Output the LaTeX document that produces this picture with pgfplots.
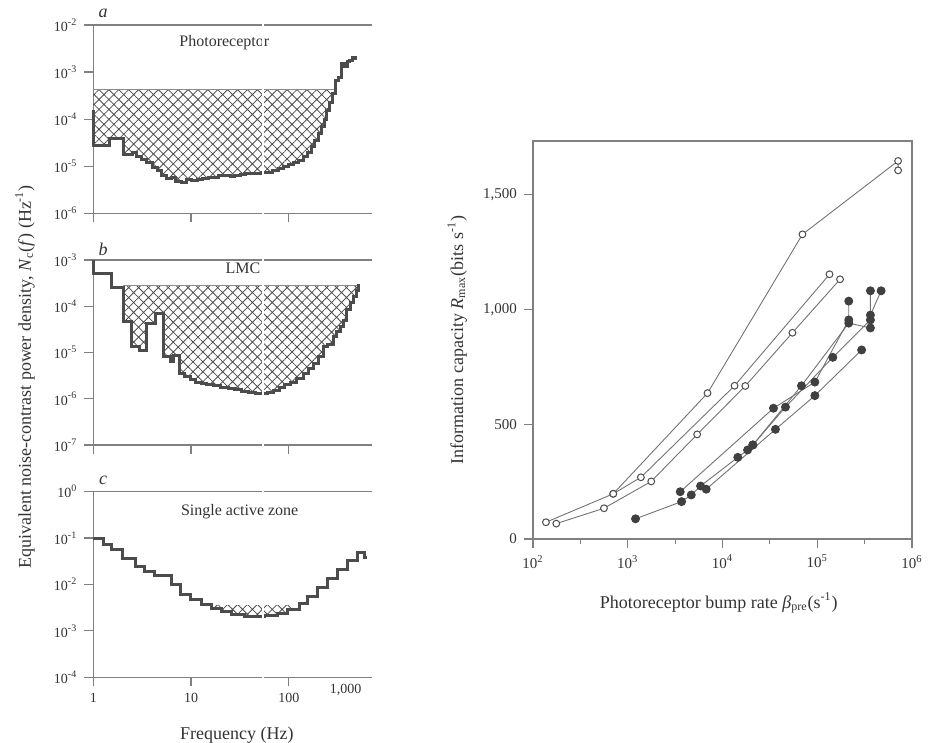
\documentclass[border=0pt]{standalone}
\usepackage{fontspec}
\setmainfont{Liberation Serif}
\usepackage{pgfplots}
\pgfplotsset{compat=1.18}
\usetikzlibrary{patterns.meta}

\definecolor{ink}{gray}{0.2}
\definecolor{axisgray}{gray}{0.5}
\definecolor{stairgray}{gray}{0.3}

\tikzset{
  ptitle/.style={font=\fontsize{8}{9}\selectfont, text=ink},
  pletter/.style={font=\itshape\fontsize{9}{10}\selectfont, text=ink},
  meshfill/.style={pattern={Hatch[angle=45,distance=3.5pt,line width=0.4pt]},
    pattern color=black!70, draw=none},
}

\begin{document}
\begin{tikzpicture}
\useasboundingbox (0,0) rectangle (474pt,371.5pt);

% a: photoreceptor
\begin{axis}[scale only axis, width=139.4pt, anchor=south west,
  xmode=log, ymode=log, xmin=1, xmax=710,
  axis x line=box, axis y line=left,
  x axis line style={-}, y axis line style={-},
  axis line style={draw=axisgray, line width=0.6pt},
  xtick={1,10,100}, xtick pos=left, ytick pos=left,
  tick align=outside, major tick length=4.5pt, minor tick length=0pt,
  tick style={draw=axisgray, line width=0.6pt},
  tick label style={font=\fontsize{7}{8}\selectfont, text=ink},
  clip=false,
  at={(46.65pt,264.85pt)}, height=94.15pt,
  ymin=1e-6, ymax=1e-2, ytick={1e-6,1e-5,1e-4,1e-3,1e-2},
  yticklabels={10\textsuperscript{-6},10\textsuperscript{-5},10\textsuperscript{-4},10\textsuperscript{-3},10\textsuperscript{-2}},
  xticklabels={,,}]
% hatched area under the 4.2e-4 line
\addplot[const plot, no marks, meshfill] coordinates {
  (1,1.57e-4) (1,2.75e-5) (1.48,3.9e-5) (2.03,1.8e-5) (2.5,2.0e-5) (2.75,1.6e-5)
  (3.1,1.4e-5) (3.5,1.2e-5) (4.0,9.5e-6) (4.5,8.0e-6) (5.0,6.5e-6) (5.6,5.5e-6)
  (6.3,5.9e-6) (7.0,4.7e-6) (8.0,4.5e-6) (9.0,5.2e-6) (10,5.0e-6) (11.5,5.1e-6)
  (13,5.4e-6) (15,5.9e-6) (17,5.8e-6) (19,6.2e-6) (22,6.5e-6) (25,6.1e-6)
  (28,6.3e-6) (32,6.6e-6) (36,6.9e-6) (41,7.1e-6) (46,7.0e-6) (52,7.3e-6)
  (60,7.4e-6) (68,8.2e-6) (78,9.0e-6) (88,9.8e-6) (100,1.1e-5) (112,1.2e-5)
  (125,1.35e-5) (140,1.6e-5) (155,2.0e-5) (170,2.6e-5) (185,3.5e-5) (200,5.0e-5)
  (215,7.0e-5) (230,1.0e-4) (245,1.5e-4) (262,2.3e-4) (280,3.5e-4)
  (300,4.2e-4) (1,4.2e-4)
};
\addplot[draw=black!45, line width=0.5pt, no marks] coordinates {(1,4.2e-4) (300,4.2e-4)};
\addplot[const plot, draw=stairgray, line width=1.5pt, no marks] coordinates {
  (1,1.57e-4) (1,2.75e-5) (1.48,3.9e-5) (2.03,1.8e-5) (2.5,2.0e-5) (2.75,1.6e-5)
  (3.1,1.4e-5) (3.5,1.2e-5) (4.0,9.5e-6) (4.5,8.0e-6) (5.0,6.5e-6) (5.6,5.5e-6)
  (6.3,5.9e-6) (7.0,4.7e-6) (8.0,4.5e-6) (9.0,5.2e-6) (10,5.0e-6) (11.5,5.1e-6)
  (13,5.4e-6) (15,5.9e-6) (17,5.8e-6) (19,6.2e-6) (22,6.5e-6) (25,6.1e-6)
  (28,6.3e-6) (32,6.6e-6) (36,6.9e-6) (41,7.1e-6) (46,7.0e-6) (52,7.3e-6)
  (60,7.4e-6) (68,8.2e-6) (78,9.0e-6) (88,9.8e-6) (100,1.1e-5) (112,1.2e-5)
  (125,1.35e-5) (140,1.6e-5) (155,2.0e-5) (170,2.6e-5) (185,3.5e-5) (200,5.0e-5)
  (215,7.0e-5) (230,1.0e-4) (245,1.5e-4) (262,2.3e-4) (280,3.5e-4) (300,6.5e-4)
  (325,7.5e-4) (345,1.5e-3) (370,1.3e-3) (395,1.65e-3) (420,1.8e-3) (450,2.0e-3)
  (480,1.9e-3) (500,1.9e-3)
};
\node[ptitle] at (rel axis cs:0.47,0.904) {Photoreceptor};
\node[pletter] at (rel axis cs:0.035,1.06) {a};
\end{axis}

% b: LMC
\begin{axis}[scale only axis, width=139.4pt, anchor=south west,
  xmode=log, ymode=log, xmin=1, xmax=710,
  axis x line=box, axis y line=left,
  x axis line style={-}, y axis line style={-},
  axis line style={draw=axisgray, line width=0.6pt},
  xtick={1,10,100}, xtick pos=left, ytick pos=left,
  tick align=outside, major tick length=4.5pt, minor tick length=0pt,
  tick style={draw=axisgray, line width=0.6pt},
  tick label style={font=\fontsize{7}{8}\selectfont, text=ink},
  clip=false,
  at={(46.65pt,149pt)}, height=92.5pt,
  ymin=1e-7, ymax=1e-3, ytick={1e-7,1e-6,1e-5,1e-4,1e-3},
  yticklabels={10\textsuperscript{-7},10\textsuperscript{-6},10\textsuperscript{-5},10\textsuperscript{-4},10\textsuperscript{-3}},
  xticklabels={,,}]
\addplot[const plot, no marks, meshfill] coordinates {
  (2.03,4.6e-5) (2.47,1.34e-5) (3.0,1.13e-5)
  (3.5,4.3e-5) (4.28,7.0e-5) (5.2,8.1e-6) (6.1,6.3e-6) (6.6,8.5e-6) (7.7,3.5e-6)
  (8.6,3.0e-6) (9.8,2.6e-6) (11.2,2.3e-6) (12.8,2.1e-6) (14.5,2.0e-6) (17,1.9e-6)
  (20,1.75e-6) (24,1.65e-6) (28,1.55e-6) (33,1.45e-6) (39,1.38e-6) (46,1.3e-6)
  (53,1.28e-6) (60,1.35e-6) (70,1.5e-6) (80,1.75e-6) (90,2.0e-6) (105,2.3e-6)
  (120,2.8e-6) (140,3.5e-6) (160,4.5e-6) (180,5.8e-6) (200,8.0e-6) (226,1.35e-5)
  (250,1.5e-5) (286,2.2e-5) (310,2.8e-5) (335,3.6e-5) (360,5.0e-5) (392,8.3e-5)
  (425,1.2e-4) (458,1.6e-4) (490,2.2e-4) (515,2.75e-4) (2.03,2.75e-4)
};
\addplot[draw=black!45, line width=0.5pt, no marks] coordinates {(2.03,2.75e-4) (515,2.75e-4)};
\addplot[const plot, draw=stairgray, line width=1.5pt, no marks] coordinates {
  (1,1e-3) (1,5e-4) (1.54,2.6e-4) (2.03,4.6e-5) (2.47,1.34e-5) (3.0,1.13e-5)
  (3.5,4.3e-5) (4.28,7.0e-5) (5.2,8.1e-6) (6.1,6.3e-6) (6.6,8.5e-6) (7.7,3.5e-6)
  (8.6,3.0e-6) (9.8,2.6e-6) (11.2,2.3e-6) (12.8,2.1e-6) (14.5,2.0e-6) (17,1.9e-6)
  (20,1.75e-6) (24,1.65e-6) (28,1.55e-6) (33,1.45e-6) (39,1.38e-6) (46,1.3e-6)
  (53,1.28e-6) (60,1.35e-6) (70,1.5e-6) (80,1.75e-6) (90,2.0e-6) (105,2.3e-6)
  (120,2.8e-6) (140,3.5e-6) (160,4.5e-6) (180,5.8e-6) (200,8.0e-6) (226,1.35e-5)
  (250,1.5e-5) (286,2.2e-5) (310,2.8e-5) (335,3.6e-5) (360,5.0e-5) (392,8.3e-5)
  (425,1.2e-4) (458,1.6e-4) (490,2.2e-4) (515,3.1e-4)
};
\node[ptitle] at (rel axis cs:0.537,0.955) {LMC};
\node[pletter] at (rel axis cs:0.035,1.06) {b};
\end{axis}

% c: single active zone
\begin{axis}[scale only axis, width=139.4pt, anchor=south west,
  xmode=log, ymode=log, xmin=1, xmax=710,
  axis x line=box, axis y line=left,
  x axis line style={-}, y axis line style={-},
  axis line style={draw=axisgray, line width=0.6pt},
  xtick={1,10,100}, xtick pos=left, ytick pos=left,
  tick align=outside, major tick length=4.5pt, minor tick length=0pt,
  tick style={draw=axisgray, line width=0.6pt},
  tick label style={font=\fontsize{7}{8}\selectfont, text=ink},
  clip=false,
  at={(46.65pt,32.85pt)}, height=92.8pt,
  ymin=1e-4, ymax=1, ytick={1e-4,1e-3,1e-2,1e-1,1},
  yticklabels={10\textsuperscript{-4},10\textsuperscript{-3},10\textsuperscript{-2},10\textsuperscript{-1},10\textsuperscript{0}},
  xticklabels={1,10,100},
  extra x ticks={380}, extra x tick labels={1{,}000},
  extra x tick style={major tick length=0pt},
  xlabel={Frequency (Hz)},
  xlabel style={at={(axis description cs:0.515,-0.31)}, anchor=center,
    font=\fontsize{9}{10}\selectfont, text=ink}]
\addplot[const plot, no marks, meshfill] coordinates {
  (16.1,0.00307) (20.4,0.0026) (25.8,0.00231) (35.3,0.00203) (56.5,0.00213)
  (77.3,0.00239) (97.7,0.00292) (105,0.0036) (16.1,0.0036)
};
\addplot[const plot, draw=stairgray, line width=1.5pt, no marks] coordinates {
  (1,0.099) (1.26,0.0746) (1.54,0.0554) (1.98,0.0366) (2.70,0.0242) (3.37,0.0189)
  (4.26,0.016) (6.3,0.00976) (7.85,0.00594) (9.93,0.00464) (12.7,0.00362)
  (16.1,0.00307) (20.4,0.0026) (25.8,0.00231) (35.3,0.00203) (56.5,0.00213)
  (77.3,0.00239) (97.7,0.00292) (128,0.00393) (156,0.00565) (198,0.00869)
  (250,0.0136) (316,0.0212) (400,0.0337) (506,0.0485) (600,0.0385) (630,0.0385)
};
\node[ptitle] at (rel axis cs:0.525,0.892) {Single active zone};
\node[pletter] at (rel axis cs:0.035,1.06) {c};
\end{axis}

\node[rotate=90, font=\fontsize{9}{10}\selectfont, text=ink] at (12.5pt,183pt)
  {Equivalent noise-contrast power density, \textit{N}\textsubscript{c}(\textit{f}) (Hz\textsuperscript{-1})};

% right: information capacity
\begin{axis}[at={(266.5pt,102pt)}, anchor=south west, scale only axis,
  width=189.5pt, height=199pt,
  xmode=log, xmin=100, xmax=1e6, ymin=0, ymax=1735,
  xtick={1e2,1e3,1e4,1e5,1e6},
  xticklabels={10\textsuperscript{2},10\textsuperscript{3},10\textsuperscript{4},10\textsuperscript{5},10\textsuperscript{6}},
  minor xtick={316.2,3162,31623,316228},
  ytick={0,500,1000,1500}, yticklabels={0,500,{1,000},{1,500}},
  xtick pos=left, ytick pos=left, tick align=outside,
  major tick length=4.5pt, minor tick length=2.5pt,
  axis line style={draw=axisgray, line width=0.6pt},
  tick style={draw=axisgray, line width=0.6pt},
  tick label style={font=\fontsize{7.5}{8}\selectfont, text=ink},
  xlabel={Photoreceptor bump rate \textit{β}\textsubscript{pre}(s\textsuperscript{-1})},
  ylabel={Information capacity \textit{R}\textsubscript{max}(bits s\textsuperscript{-1})},
  xlabel style={at={(axis description cs:0.49,-0.161)}, anchor=center,
    font=\fontsize{9}{10}\selectfont, text=ink},
  ylabel style={at={(axis description cs:-0.2,0.5)}, anchor=center,
    font=\fontsize{9}{10}\selectfont, text=ink},
]
\addplot[draw=black!55, line width=0.45pt, mark=*, mark size=1.7pt,
  mark options={fill=white, draw=black!70, line width=0.5pt}]
  coordinates {(137,73) (703,197) (6950,636) (69800,1328) (713000,1648) (713000,1607)};
\addplot[draw=black!55, line width=0.45pt, mark=*, mark size=1.7pt,
  mark options={fill=white, draw=black!70, line width=0.5pt}]
  coordinates {(176,67) (561,134) (1770,251) (5400,456) (17400,667) (54700,899) (174000,1132)};
\addplot[draw=black!55, line width=0.45pt, mark=*, mark size=1.7pt,
  mark options={fill=white, draw=black!70, line width=0.5pt}]
  coordinates {(703,197) (1377,269) (13400,668) (134700,1154)};
\addplot[draw=black!55, line width=0.45pt, mark=*, mark size=2pt,
  mark options={fill=black!75, draw=black!75}]
  coordinates {(1208,88) (3700,163) (4680,192) (5870,231) (14500,356) (18400,388)
  (20900,410) (46200,575) (146000,792) (364000,955) (364000,1082)};
\addplot[draw=black!55, line width=0.45pt, mark=*, mark size=2pt,
  mark options={fill=black!75, draw=black!75}]
  coordinates {(3580,206) (34500,570) (94400,684) (215000,955) (215000,1037)};
\addplot[draw=black!55, line width=0.45pt, mark=*, mark size=2pt,
  mark options={fill=black!75, draw=black!75}]
  coordinates {(6730,217) (36200,478) (94400,625) (294000,824)};
\addplot[draw=black!55, line width=0.45pt, mark=*, mark size=2pt,
  mark options={fill=black!75, draw=black!75}]
  coordinates {(20900,410) (68100,668) (215000,941) (364000,920) (364000,976) (472000,1082)};
\end{axis}

% scan artefact: thin white stripe through the left panels (kept off the panel c title)
\draw[white, line width=1.2pt] (131.5pt,362.5pt) -- (131.5pt,121pt);
\draw[white, line width=1.2pt] (131.5pt,112pt) -- (131.5pt,31.5pt);
\end{tikzpicture}
\end{document}
